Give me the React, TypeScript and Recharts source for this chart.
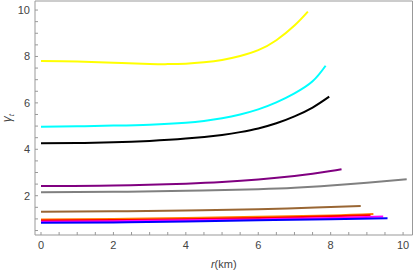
import React from "react";
import { LineChart, Line, XAxis, YAxis, Label } from "recharts";

// ticks every 0.5, labels only on even numbers
const xTicks = [0, 0.5, 1, 1.5, 2, 2.5, 3, 3.5, 4, 4.5, 5, 5.5, 6, 6.5, 7, 7.5, 8, 8.5, 9, 9.5, 10];
const yTicks = [0.5, 1, 1.5, 2, 2.5, 3, 3.5, 4, 4.5, 5, 5.5, 6, 6.5, 7, 7.5, 8, 8.5, 9, 9.5, 10];

const rYellow = [0, 1, 2, 3, 3.5, 4, 4.5, 5, 5.5, 6, 6.5, 7, 7.37];
const gYellow = [7.8, 7.78, 7.73, 7.68, 7.67, 7.69, 7.75, 7.85, 8.02, 8.27, 8.7, 9.33, 9.93];

const rCyan = [0, 1, 2, 3, 4, 4.5, 5, 5.5, 6, 6.5, 7, 7.5, 7.86];
const gCyan = [4.97, 4.99, 5.02, 5.06, 5.14, 5.22, 5.34, 5.5, 5.72, 6.02, 6.41, 6.93, 7.6];

const rBlack = [0, 1, 2, 3, 4, 5, 5.5, 6, 6.5, 7, 7.5, 7.96];
const gBlack = [4.26, 4.27, 4.3, 4.36, 4.46, 4.62, 4.74, 4.9, 5.12, 5.42, 5.8, 6.27];

const rPurple = [0, 2, 4, 5, 6, 7, 7.5, 8, 8.3];
const gPurple = [2.42, 2.44, 2.52, 2.59, 2.7, 2.85, 2.95, 3.06, 3.14];

const rGray = [0, 2, 4, 6, 7, 8, 9, 10.1];
const gGray = [2.15, 2.17, 2.21, 2.28, 2.34, 2.44, 2.56, 2.71];

const rBrown = [0, 2, 4, 6, 7, 8, 8.83];
const gBrown = [1.31, 1.33, 1.36, 1.42, 1.46, 1.51, 1.56];

const rOrange = [0, 2, 4, 6, 8, 9.18];
const gOrange = [0.98, 1.0, 1.04, 1.09, 1.15, 1.21];

const rRed = [0, 2, 4, 6, 8, 9.1];
const gRed = [0.93, 0.95, 0.99, 1.04, 1.11, 1.16];

const rMagenta = [0, 2, 4, 6, 8, 9.45];
const gMagenta = [0.88, 0.9, 0.94, 0.98, 1.04, 1.1];

const rBlue = [0, 2, 4, 6, 8, 9.57];
const gBlue = [0.83, 0.85, 0.89, 0.94, 0.99, 1.03];

const series = [
  { key: "yellow", color: "#ffff00", r: rYellow, g: gYellow },
  { key: "cyan", color: "#00ffff", r: rCyan, g: gCyan },
  { key: "black", color: "#000000", r: rBlack, g: gBlack },
  { key: "purple", color: "#800080", r: rPurple, g: gPurple },
  { key: "gray", color: "#808080", r: rGray, g: gGray },
  { key: "brown", color: "#996633", r: rBrown, g: gBrown },
  { key: "orange", color: "#ff8000", r: rOrange, g: gOrange },
  { key: "red", color: "#ff0000", r: rRed, g: gRed },
  { key: "magenta", color: "#ff00ff", r: rMagenta, g: gMagenta },
  { key: "blue", color: "#0000ff", r: rBlue, g: gBlue },
];

const toPts = (r: number[], g: number[]) => r.map((x, i) => ({ r: x, g: g[i] }));

const FONT = "'Liberation Sans', Arial, sans-serif";
const FRAME = "#999";
const tickStyle = { fontFamily: FONT, fontSize: 11, fill: "#444" };
const evenOnly = (v: number) => (Math.abs(v % 2) < 1e-9 ? String(v) : "");

export default function App() {
  return (
    <div style={{ position: "absolute", left: 0, top: 0, background: "#fff" }}>
      <LineChart width={415} height={271} margin={{ top: 1, right: 2.5, bottom: 0, left: 0 }}>
        <XAxis
          xAxisId="b"
          dataKey="r"
          type="number"
          domain={[-0.166, 10.26]}
          allowDataOverflow
          ticks={xTicks}
          interval={0}
          tickFormatter={evenOnly}
          tick={tickStyle}
          tickSize={-3}
          tickMargin={9}
          stroke={FRAME}
          height={36}
        >
          <Label
            content={(p: any) => {
              const vb = p.viewBox || { x: 35, y: 235, width: 377.5 };
              return (
                <text x={vb.x + vb.width / 2} y={vb.y + 33} textAnchor="middle" fontFamily={FONT} fontSize={11} fill="#444">
                  <tspan fontStyle="italic">r</tspan>(km)
                </text>
              );
            }}
          />
        </XAxis>
        <XAxis
          xAxisId="t"
          orientation="top"
          dataKey="r"
          type="number"
          domain={[-0.166, 10.26]}
          allowDataOverflow
          ticks={xTicks}
          interval={0}
          mirror
          tick={false}
          tickSize={3}
          stroke={FRAME}
        />
        <YAxis
          yAxisId="l"
          type="number"
          domain={[0.307, 10.39]}
          allowDataOverflow
          ticks={yTicks}
          interval={0}
          tickFormatter={evenOnly}
          tick={tickStyle}
          tickSize={-3}
          tickMargin={8}
          stroke={FRAME}
          width={35}
        >
          <Label
            content={(p: any) => {
              const vb = p.viewBox || { x: 0, y: 1, height: 234 };
              const cx = 11;
              const cy = vb.y + vb.height / 2;
              return (
                <text x={cx} y={cy} transform={`rotate(-90, ${cx}, ${cy})`} textAnchor="middle" fontFamily={FONT} fontSize={12} fill="#444">
                  <tspan fontStyle="italic">γ</tspan>
                  <tspan fontStyle="italic" fontSize={8} dy={3}>t</tspan>
                </text>
              );
            }}
          />
        </YAxis>
        <YAxis
          yAxisId="r"
          orientation="right"
          type="number"
          domain={[0.307, 10.39]}
          allowDataOverflow
          ticks={yTicks}
          interval={0}
          mirror
          tick={false}
          tickSize={3}
          stroke={FRAME}
        />
        {series.map((s) => (
          <Line
            key={s.key}
            xAxisId="b"
            yAxisId="l"
            data={toPts(s.r, s.g)}
            dataKey="g"
            type="natural"
            stroke={s.color}
            strokeWidth={2}
            dot={false}
            activeDot={false}
            isAnimationActive={false}
          />
        ))}
      </LineChart>
    </div>
  );
}
